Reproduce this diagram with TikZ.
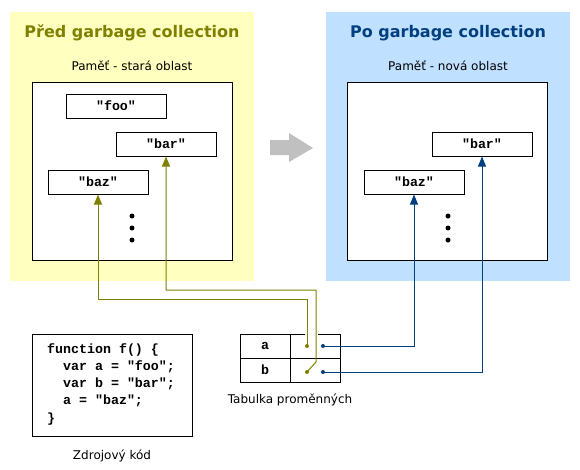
\documentclass[tikz,border=0pt]{standalone}
\usepackage{fontspec}
\setmainfont{DejaVu Sans}
\setmonofont{Liberation Mono}
\usetikzlibrary{arrows.meta}

\definecolor{oldpanel}{HTML}{FFFFC0}
\definecolor{newpanel}{HTML}{C0E0FF}
\definecolor{oldline}{HTML}{808000}
\definecolor{newline}{HTML}{004080}
\definecolor{gcarrow}{HTML}{C0C0C0}

\tikzset{
  panel/.style={minimum width=244pt, minimum height=269pt, inner sep=0pt},
  title/.style={font=\fontsize{16}{19}\selectfont\bfseries},
  caption/.style={font=\fontsize{12}{14}\selectfont},
  membox/.style={draw, line width=1pt, minimum width=200pt, minimum height=178pt, inner sep=0pt},
  memcell/.style={draw, fill=white, line width=1pt, minimum width=100pt, minimum height=24pt, inner sep=0pt,
    font=\fontsize{13.3}{15}\selectfont\ttfamily\bfseries},
  varcell/.style={draw, line width=1pt, minimum width=50pt, minimum height=24pt, inner sep=0pt,
    font=\fontsize{13.3}{15}\selectfont\ttfamily\bfseries},
  ref/.style={line width=1pt, -{Triangle[length=10pt,width=8pt]}},
}

\begin{document}
\begin{tikzpicture}[x=1pt, y=-1pt]
    \useasboundingbox (0,0) rectangle (580,469);

    % Panels
    \node[panel, fill=oldpanel] (before) at (132,146.5) {};
    \node[panel, fill=newpanel] (after) at (448,146.5) {};
    \node[title, text=oldline] (beforeTitle) at (132,33) {Před garbage collection};
    \node[title, text=newline] (afterTitle) at (448,33) {Po garbage collection};
    \node[caption] (oldLabel) at (132,66) {Paměť - stará oblast};
    \node[caption] (newLabel) at (448,66) {Paměť - nová oblast};

    % Memory
    \node[membox, fill=white] (oldMem) at (132,171) {};
    \node[membox, fill=white] (newMem) at (447.5,171) {};
    \node[memcell] (fooOld) at (116,106) {"foo"};
    \node[memcell] (barOld) at (166,144) {"bar"};
    \node[memcell] (bazOld) at (98,182) {"baz"};
    \node[memcell] (barNew) at (482,144) {"bar"};
    \node[memcell] (bazNew) at (414,182) {"baz"};
    \foreach \y in {216,228,240} {
        \fill (132,\y) circle (2.5pt);
        \fill (448,\y) circle (2.5pt);
    }

    % Arrow between panels
    \fill[gcarrow] (270,140) -- (289,140) -- (289,133) -- (313,148) -- (289,162) -- (289,155) -- (270,155) -- cycle;

    % Source code
    \node[draw, line width=1pt, minimum width=160pt, minimum height=102pt, inner sep=0pt] (codeBox) at (112,385) {};
    \node[anchor=north west, inner sep=0pt, align=left,
        font=\fontsize{13.3}{17.25}\selectfont\ttfamily\bfseries] (code) at (47,343) {%
        function f() \{\\
        \hspace*{1.2em}var a = "foo";\\
        \hspace*{1.2em}var b = "bar";\\
        \hspace*{1.2em}a = "baz";\\
        \}};
    \node[caption] (codeLabel) at (112,456) {Zdrojový kód};

    % Variable table
    \node[varcell] (aName) at (265,346) {a};
    \node[varcell] (aVal) at (315,346) {};
    \node[varcell] (bName) at (265,370) {b};
    \node[varcell] (bVal) at (315,370) {};
    \node[caption] (tableLabel) at (290,400) {Tabulka proměnných};
    \draw[white, line width=2pt] (304.5,334) -- (318,334);

    % References
    \coordinate (aOld) at (307,346);
    \coordinate (bOld) at (307,372);
    \coordinate (aNew) at (323,346);
    \coordinate (bNew) at (323,372);
    \coordinate (aBend) at (307,299);
    \coordinate (bKnee) at (316,362);
    \coordinate (bBend) at (316,290);
    \draw[ref, oldline] (aOld) -- (aBend) -| (bazOld.south);
    \draw[ref, oldline] (bOld) -- (bKnee) -- (bBend) -| (barOld.south);
    \draw[ref, newline] (aNew) -| (bazNew.south);
    \draw[ref, newline] (bNew) -| (barNew.south);
    \fill[oldline] (aOld) circle (2pt) (bOld) circle (2pt);
    \fill[newline] (aNew) circle (2pt) (bNew) circle (2pt);
\end{tikzpicture}
\end{document}
